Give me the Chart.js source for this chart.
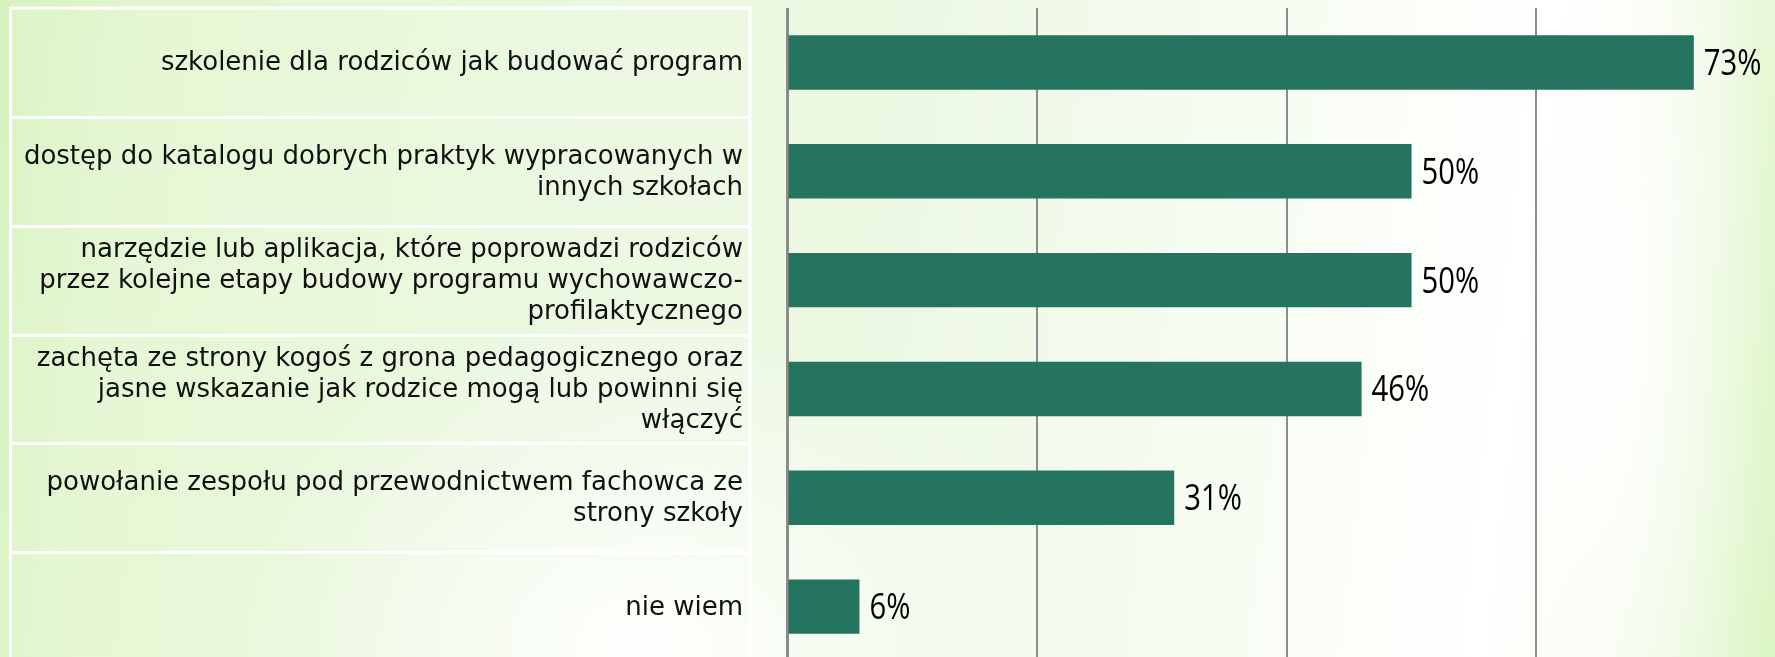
<!DOCTYPE html>
<html>
<head>
<meta charset="utf-8">
<script src="https://cdn.jsdelivr.net/npm/chart.js@4.4.0/dist/chart.umd.min.js"></script>
<style>
html,body{margin:0;padding:0;overflow:hidden;width:1775px;height:657px;}
body{
  background:
    radial-gradient(ellipse 420px 330px at 640px 650px, rgba(255,255,255,0.95), rgba(255,255,255,0) 100%),
    radial-gradient(ellipse 160px 700px at 1610px 330px, rgba(255,255,255,0.9), rgba(255,255,255,0) 100%),
    linear-gradient(97deg, #d6f2bd 0%, #e2f6cf 8%, #e9f8dc 30%, #eef9e5 52%, #f6fcf1 68%, #ffffff 84%, #f3fbea 91%, #dbf5c4 100%);
}
#wrap{position:relative;width:1775px;height:661px;}
</style>
</head>
<body>
<div id="wrap"><canvas id="c" width="1775" height="661"></canvas></div>
<script>
// ---- data ----
const categories = [
  ["szkolenie dla rodziców jak budować program"],
  ["dostęp do katalogu dobrych praktyk wypracowanych w", "innych szkołach"],
  ["narzędzie lub aplikacja, które poprowadzi rodziców", "przez kolejne etapy budowy programu wychowawczo-", "profilaktycznego"],
  ["zachęta ze strony kogoś z grona pedagogicznego oraz", "jasne wskazanie jak rodzice mogą lub powinni się", "włączyć"],
  ["powołanie zespołu pod przewodnictwem fachowca ze", "strony szkoły"],
  ["nie wiem"]
];
const values = [72.6, 50, 50, 46, 31, 5.8];
const valueLabels = ["73%", "50%", "50%", "46%", "31%", "6%"];
const xTicks = [0, 20, 40, 60];

// ---- styles ----
const BAR_COLOR = '#24745f';
const GRID_COLOR = '#8c8c8c';
const LABEL_FONT = '26px "DejaVu Sans"';
const LABEL_RIGHT = 743;
const LABEL_LH = 31;
const VALUE_FONT = '37px "Open Sans"';
const VALUE_SX = 0.79;

const cellsPlugin = {
  id: 'cells',
  beforeDraw(chart) {
    const ctx = chart.ctx;
    const y = chart.scales.y;
    ctx.save();
    ctx.strokeStyle = '#ffffff';
    ctx.lineWidth = 3;
    const top = y.getPixelForValue(-0.5);
    const bottom = y.getPixelForValue(categories.length - 0.5);
    ctx.fillStyle = 'rgba(255,255,255,0.12)';
    ctx.fillRect(10, top, 740, bottom - top);
    ctx.beginPath();
    ctx.moveTo(10.5, bottom + 5); ctx.lineTo(10.5, top); ctx.lineTo(750, top); ctx.lineTo(750, bottom + 5);
    for (let i = 1; i < categories.length; i++) {
      const b = Math.round(y.getPixelForValue(i - 0.5)) + 0.5;
      ctx.moveTo(10.5, b); ctx.lineTo(750, b);
    }
    ctx.stroke();
    ctx.restore();
  },
  afterDatasetsDraw(chart) {
    const ctx = chart.ctx;
    const y = chart.scales.y;
    ctx.save();
    // category labels
    ctx.font = LABEL_FONT;
    ctx.fillStyle = '#111111';
    ctx.textAlign = 'right';
    ctx.textBaseline = 'alphabetic';
    categories.forEach((lines, i) => {
      const cy = y.getPixelForValue(i);
      lines.forEach((ln, k) => {
        const by = cy - (lines.length - 1) / 2 * LABEL_LH + k * LABEL_LH + 8;
        ctx.fillText(ln, LABEL_RIGHT, by);
      });
    });
    // value labels
    const meta = chart.getDatasetMeta(0);
    ctx.font = VALUE_FONT;
    ctx.textAlign = 'left';
    meta.data.forEach((bar, i) => {
      ctx.save();
      ctx.translate(bar.x + 10, bar.y + 12.5);
      ctx.scale(VALUE_SX, 1);
      ctx.fillStyle = '#000000';
      ctx.fillText(valueLabels[i], 0, 0);
      ctx.restore();
    });
    ctx.restore();
  }
};

new Chart(document.getElementById('c'), {
  type: 'bar',
  data: {
    labels: categories,
    datasets: [{
      data: values,
      backgroundColor: BAR_COLOR,
      borderWidth: 0,
      barPercentage: 0.5,
      categoryPercentage: 1.0
    }]
  },
  options: {
    indexAxis: 'y',
    responsive: false,
    devicePixelRatio: 1,
    animation: false,
    layout: { padding: { left: 787, top: 8, right: 0, bottom: 0 } },
    plugins: { legend: { display: false }, tooltip: { enabled: false } },
    scales: {
      x: {
        type: 'linear',
        position: 'bottom',
        min: 0,
        max: 79.1,
        afterBuildTicks: (s) => { s.ticks = xTicks.map(v => ({ value: v })); },
        ticks: { display: false },
        grid: {
          color: GRID_COLOR,
          lineWidth: (c) => (c.tick && c.tick.value === 0 ? 3 : 2),
          drawTicks: false
        },
        border: { display: false }
      },
      y: {
        display: false
      }
    }
  },
  plugins: [cellsPlugin]
});
</script>
</body>
</html>
